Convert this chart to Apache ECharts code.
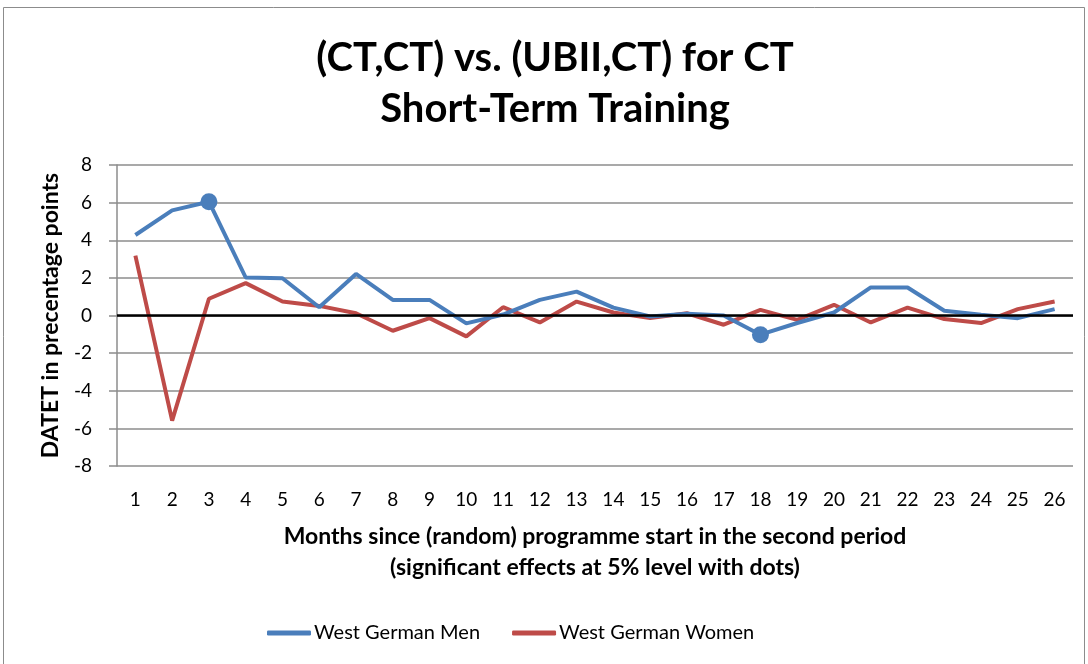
<!DOCTYPE html>
<html>
<head>
    <meta charset="UTF-8">
    <title>(CT,CT) vs. (UBII,CT) for CT</title>
    <script src="https://cdn.jsdelivr.net/npm/echarts@6/dist/echarts.min.js"></script>
    <style>
        html, body { margin: 0; padding: 0; background: #fff; }
    </style>
</head>
<body>
    <div id="main" style="width: 1088px;height:664px;"></div>
    <script type="text/javascript">
        // months since programme start
        var months = ['1','2','3','4','5','6','7','8','9','10','11','12','13',
                      '14','15','16','17','18','19','20','21','22','23','24','25','26'];
        // DATET, percentage points
        var menValues = [4.28, 5.59, 6.05, 2.02, 1.98, 0.44, 2.21, 0.83, 0.83, -0.42, 0.05, 0.83, 1.27,
                         0.42, -0.05, 0.09, 0.0, -1.02, -0.40, 0.16, 1.49, 1.49, 0.25, 0.04, -0.14, 0.34];
        var womenValues = [3.18, -5.59, 0.89, 1.72, 0.74, 0.51, 0.12, -0.81, -0.14, -1.11, 0.44, -0.37, 0.74,
                           0.16, -0.14, 0.12, -0.49, 0.30, -0.23, 0.57, -0.37, 0.42, -0.19, -0.40, 0.34, 0.74];
        // months with significant effects (5% level), shown with dots
        var menSignificant = ['3', '18'];
        var womenSignificant = [];
        var yTicks = [-8, -6, -4, -2, 0, 2, 4, 6, 8];

        var font = 'Lato, "Open Sans", sans-serif';
        var myChart = echarts.init(document.getElementById('main'));

        function dotSize(list) {
            return function (v, p) {
                return list.indexOf(months[p.dataIndex]) >= 0 ? 17 : 0;
            };
        }

        var option = {
            backgroundColor: '#fff',
            animation: false,
            title: {
                text: '(CT,CT) vs. (UBII,CT) for CT\nShort-Term Training',
                left: 550,
                top: 28,
                textAlign: 'center',
                textStyle: {
                    fontFamily: font,
                    fontWeight: 'bold',
                    fontSize: 40,
                    lineHeight: 51,
                    color: '#000'
                }
            },
            graphic: [{
                type: 'rect',
                shape: { x: 3.5, y: 7.5, width: 1081, height: 700 },
                style: { fill: 'none', stroke: '#8c8c8c', lineWidth: 1 },
                silent: true
            }],
            legend: {
                left: 262,
                top: 618,
                itemWidth: 44,
                itemHeight: 5,
                itemGap: 32,
                icon: 'roundRect',
                textStyle: { fontFamily: font, fontSize: 20, color: '#000', padding: [0, 0, 0, -2] },
                data: ['West German Men', 'West German Women']
            },
            grid: {
                left: 117,
                right: 15,
                top: 165,
                bottom: 198
            },
            xAxis: {
                type: 'category',
                data: months,
                boundaryGap: true,
                name: 'Months since (random) programme start in the second period\n(significant effects at 5% level with dots)',
                nameLocation: 'middle',
                nameGap: 55,
                nameTextStyle: {
                    fontFamily: font,
                    fontWeight: 'bold',
                    fontSize: 23,
                    lineHeight: 31,
                    color: '#000'
                },
                axisLine: { show: false },
                axisTick: { show: false },
                axisLabel: {
                    fontFamily: font,
                    fontSize: 19,
                    color: '#000',
                    margin: 24,
                    interval: 0
                }
            },
            yAxis: {
                type: 'value',
                min: yTicks[0],
                max: yTicks[yTicks.length - 1],
                interval: 2,
                name: 'DATET in precentage points',
                nameLocation: 'middle',
                nameGap: 55,
                nameTextStyle: {
                    fontFamily: font,
                    fontWeight: 'bold',
                    fontSize: 23,
                    color: '#000'
                },
                axisLine: { show: true, lineStyle: { color: '#8c8c8c', width: 1.5 } },
                axisTick: { show: true, length: 8, lineStyle: { color: '#8c8c8c', width: 1.5 } },
                axisLabel: {
                    fontFamily: font,
                    fontSize: 19,
                    color: '#000',
                    margin: 25
                },
                splitLine: { lineStyle: { color: '#8c8c8c', width: 1.5 } }
            },
            series: [
                {
                    name: 'West German Men',
                    type: 'line',
                    data: menValues,
                    color: '#4a7ebb',
                    lineStyle: { width: 4, color: '#4a7ebb' },
                    symbol: 'circle',
                    showAllSymbol: true,
                    symbolSize: dotSize(menSignificant),
                    itemStyle: { color: '#4a7ebb' },
                    z: 4,
                    markLine: {
                        silent: true,
                        symbol: 'none',
                        label: { show: false },
                        lineStyle: { color: '#000', width: 2.5, type: 'solid' },
                        data: [{ yAxis: 0 }]
                    }
                },
                {
                    name: 'West German Women',
                    type: 'line',
                    data: womenValues,
                    color: '#be4b48',
                    lineStyle: { width: 4, color: '#be4b48' },
                    symbol: 'circle',
                    showAllSymbol: true,
                    symbolSize: dotSize(womenSignificant),
                    itemStyle: { color: '#be4b48' },
                    z: 3
                }
            ]
        };

        myChart.setOption(option);
    </script>
</body>
</html>
